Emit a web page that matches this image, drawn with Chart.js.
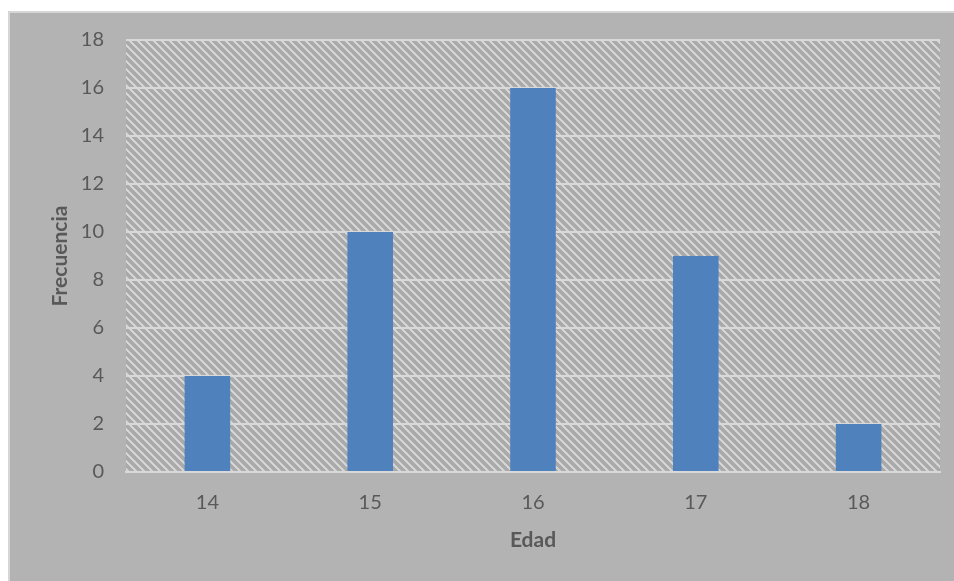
<!DOCTYPE html>
<html>
<head>
<meta charset="utf-8">
<script src="https://cdn.jsdelivr.net/npm/chart.js@4.4.0/dist/chart.umd.min.js"></script>
<style>
  html, body { margin: 0; padding: 0; background: #fff; }
  #wrap { width: 954px; height: 581px; position: relative; }
</style>
</head>
<body>
<div id="wrap"><canvas id="barcanvas"></canvas></div>
<script>
var edades = ['14', '15', '16', '17', '18'];
var frecuencias = [4, 10, 16, 9, 2];
var yMax = 18;
var yStep = 2;

// hatch like the office "wide downward diagonal" fill
function makeHatch() {
    var c = document.createElement('canvas');
    c.width = 8; c.height = 8;
    var g = c.getContext('2d');
    g.fillStyle = '#aaaaaa';
    g.fillRect(0, 0, 8, 8);
    g.fillStyle = '#d4d4d4';
    for (var y = 0; y < 8; y++) {
        for (var x = 0; x < 8; x++) {
            if ((((x - y) % 8) + 8) % 8 < 3) g.fillRect(x, y, 1, 1);
        }
    }
    return g.createPattern(c, 'repeat');
}

var backgroundPlugin = {
    id: 'fondo',
    beforeDraw: function (chart) {
        var ctx = chart.ctx;
        var a = chart.chartArea;
        ctx.save();
        ctx.fillStyle = '#ffffff';
        ctx.fillRect(0, 0, chart.width, chart.height);
        ctx.fillStyle = '#b3b3b3';
        ctx.fillRect(8, 11, chart.width - 8, chart.height - 11);
        ctx.fillStyle = '#d6d6d6';
        ctx.fillRect(8, 11, chart.width - 8, 2);
        ctx.fillRect(8, 11, 2, chart.height - 11);
        ctx.fillStyle = makeHatch();
        ctx.fillRect(a.left, a.top, a.right - a.left, a.bottom - a.top);
        ctx.restore();
    }
};

var barChartData = {
    labels: edades,
    datasets: [{
        label: 'Frecuencia',
        backgroundColor: '#4f81bd',
        borderWidth: 0,
        barPercentage: 0.28,
        categoryPercentage: 1,
        data: frecuencias
    }]
};

var options = {
    responsive: true,
    maintainAspectRatio: false,
    animation: false,
    layout: { padding: { top: 40, right: 14, bottom: 0, left: 0 } },
    plugins: { legend: { display: false }, tooltip: { enabled: false } },
    scales: {
        x: {
            grid: { display: false, drawTicks: false },
            border: { display: true, color: '#d9d9d9', width: 2 },
            ticks: {
                color: '#595959',
                padding: 19,
                font: { family: 'Lato', size: 20 }
            },
            title: {
                display: true,
                text: 'Edad',
                color: '#595959',
                font: { family: 'Lato', size: 21, weight: 'bold' },
                padding: { top: 0, bottom: 28 }
            },
            afterFit: function (s) { s.height = 109; }
        },
        y: {
            min: 0,
            max: yMax,
            grid: { color: '#d9d9d9', lineWidth: 2, drawTicks: false },
            border: { display: false },
            ticks: {
                stepSize: yStep,
                color: '#595959',
                padding: 22,
                font: { family: 'Lato', size: 20 }
            },
            title: {
                display: true,
                text: 'Frecuencia',
                color: '#595959',
                font: { family: 'Lato', size: 21, weight: 'bold' },
                padding: { top: 48, bottom: 0 }
            },
            afterFit: function (s) { s.width = 126; }
        }
    }
};

var ctx1 = document.getElementById('barcanvas').getContext('2d');
window.myBar = new Chart(ctx1, {
    type: 'bar',
    data: barChartData,
    options: options,
    plugins: [backgroundPlugin]
});
</script>
</body>
</html>
